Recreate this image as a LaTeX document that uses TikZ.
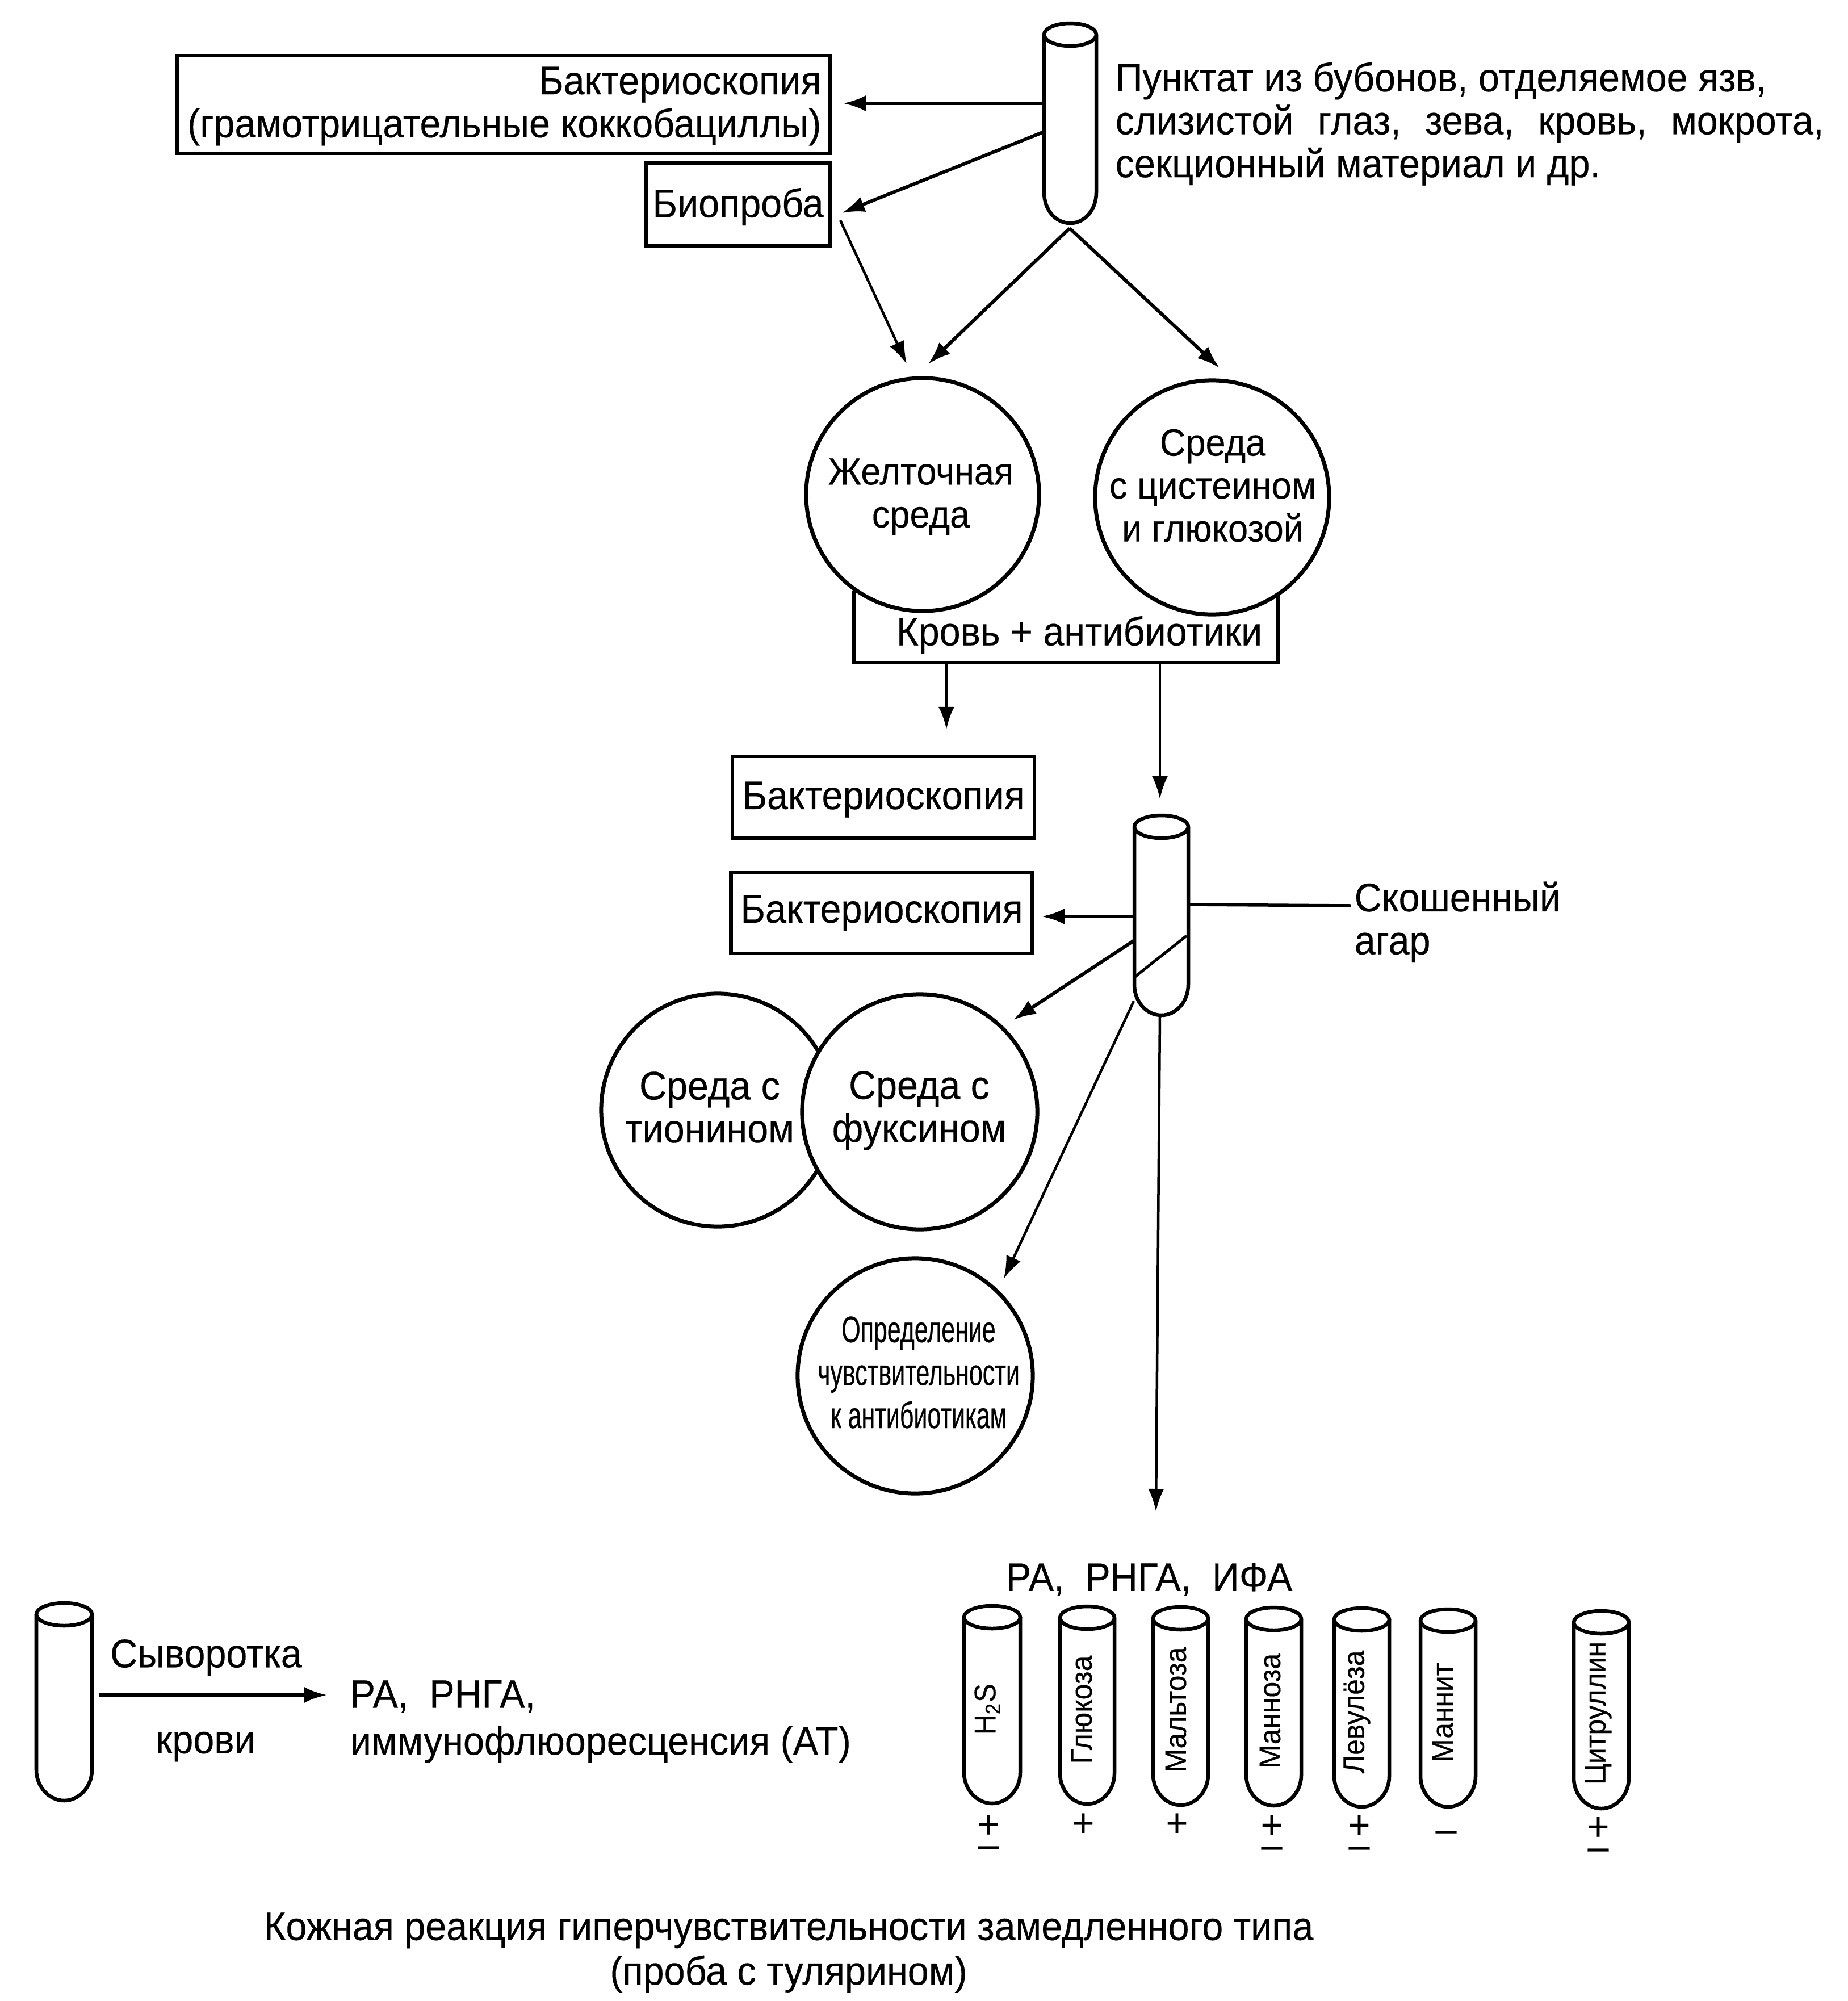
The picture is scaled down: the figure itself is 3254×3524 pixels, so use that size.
\documentclass[tikz,border=0pt]{standalone}
\usepackage{fontspec}
\setmainfont[FakeStretch=.945,FakeBold=.25]{Liberation Sans}
\newfontfamily\narrowfont[FakeStretch=.66,FakeBold=.35]{Liberation Sans}
\usepackage{tikz}
\usetikzlibrary{positioning,calc,arrows.meta}

% x, y given in picture pixels, y runs downwards
\newcommand{\testtube}[4]{%
    \pgfmathsetmacro{\tubemid}{(#1+#2)/2}
    \pgfmathsetmacro{\tuberad}{(#2-#1)/2}
    \pgfmathsetmacro{\tubeknee}{#4-54}
    \draw[tubeline, fill=white] (#1,#3+20) -- (#1,\tubeknee)
        .. controls +(0,30) and +(-26,0) .. (\tubemid,#4)
        .. controls +(26,0) and +(0,30) .. (#2,\tubeknee) -- (#2,#3+20);
    \draw[tubeline, fill=white] (\tubemid,#3+20) ellipse [x radius=\tuberad, y radius=20];
}

\tikzset{
    tubeline/.style={line width=.065cm},
    link/.style={line width=.06cm, ->, >={Latex[length=.4cm,width=.28cm]}},
    thinlink/.style={link, line width=.045cm},
    rectbox/.style={draw, line width=.065cm, fill=white, inner sep=0pt},
    roundbox/.style={draw, circle, line width=.07cm, fill=white, minimum size=4.12cm, inner sep=0pt},
    plain/.style={align=center, inner sep=0pt},
    smalltext/.style={plain, font=\fontsize{19}{21.5}\selectfont},
    tubelabel/.style={plain, rotate=90, font=\fontsize{15}{17}\selectfont},
    narrowtext/.style={plain, font=\narrowfont\fontsize{18.5}{21.5}\selectfont},
    signs/.style={plain, font=\fontsize{20}{10}\selectfont}
}

\begin{document}
\begin{tikzpicture}[x=.01cm, y=-.01cm, every node/.append style={font=\fontsize{20}{21.5}\selectfont}]
    \useasboundingbox (0,0) rectangle (3254,3524);

    % Sample tube and first tests
    \testtube{1839}{1931}{41}{393}
    \node[plain, anchor=west, align=left] (sample) at (1964,218) {%
        Пунктат из бубонов, отделяемое язв,\\
        \makebox[12.47cm][s]{слизистой\ \ глаз,\ \ зева,\ \ кровь,\ \ мокрота,}\\
        секционный материал и др.};
    \node[rectbox, minimum width=11.5cm, minimum height=1.72cm] (micro) at (887,184) {};
    \node[plain, anchor=east, align=right] (microtext) at (1447,187)
        {Бактериоскопия\\(грамотрицательные коккобациллы)};
    \node[rectbox, minimum width=3.25cm, minimum height=1.45cm] (bio) at (1300,360) {};
    \node[plain] (biotext) at (1300,364) {Биопроба};
    \coordinate (sampleA) at (1839,182);
    \coordinate (sampleB) at (1839,232);
    \coordinate (sampleC) at (1884,402);
    \coordinate (microTip) at (1485,182);
    \coordinate (bioTip) at (1483,375);
    \coordinate (bioOut) at (1480,388);
    \coordinate (yolkTipA) at (1597,641);
    \coordinate (yolkTipB) at (1635,641);
    \coordinate (cystTip) at (2148,648);
    \draw[link] (sampleA) -- (microTip);
    \draw[link] (sampleB) -- (bioTip);
    \draw[thinlink] (bioOut) -- (yolkTipA);
    \draw[link] (sampleC) -- (yolkTipB);
    \draw[link] (sampleC) -- (cystTip);

    % Enrichment media on the blood box
    \coordinate (bloodNW) at (1504,1041);
    \coordinate (bloodSW) at (1504,1167);
    \coordinate (bloodSE) at (2251,1167);
    \coordinate (bloodNE) at (2251,1050);
    \draw[rectbox] (bloodNW) -- (bloodSW) -- (bloodSE) -- (bloodNE);
    \node[roundbox, minimum size=4.1cm] (yolk) at (1625,871) {};
    \node[roundbox] (cyst) at (2135,876) {};
    \node[smalltext] (yolktext) at (1622,875) {Желточная\\среда};
    \node[smalltext] (cysttext) at (2136,855) {Среда\\с цистеином\\и глюкозой};
    \node[plain] (bloodtext) at (1901,1118) {Кровь + антибиотики};

    % Second round
    \node[rectbox, minimum width=5.32cm, minimum height=1.44cm] (microB) at (1556,1404) {};
    \node[plain] (microBtext) at (1556,1408) {Бактериоскопия};
    \node[rectbox, minimum width=5.31cm, minimum height=1.42cm] (microC) at (1553,1608) {};
    \node[plain] (microCtext) at (1553,1608) {Бактериоскопия};
    \coordinate (bloodA) at (1667,1167);
    \coordinate (bloodB) at (2043,1167);
    \coordinate (microBTip) at (1667,1285);
    \coordinate (slantTip) at (2043,1407);
    \draw[link] (bloodA) -- (microBTip);
    \draw[thinlink] (bloodB) -- (slantTip);

    % Agar slant
    \testtube{1998}{2093}{1436}{1788}
    \coordinate (agarA) at (1998,1721);
    \coordinate (agarB) at (2090,1648);
    \draw[line width=.05cm] (agarA) -- (agarB);
    \node[plain, anchor=north west, align=left] (agar) at (2385,1552) {Скошенный\\агар};
    \coordinate (slantR) at (2093,1593);
    \coordinate (agarL) at (2379,1595);
    \draw[line width=.055cm] (slantR) -- (agarL);
    \coordinate (slantL) at (1998,1614);
    \coordinate (microCTip) at (1835,1614);
    \draw[link] (slantL) -- (microCTip);

    % Dye media and sensitivity
    \node[roundbox, minimum size=4.1cm] (thio) at (1264,1955) {};
    \node[roundbox, minimum size=4.14cm] (fuch) at (1620,1958) {};
    \node[plain] (thiotext) at (1250,1950) {Среда с\\тионином};
    \node[plain] (fuchtext) at (1619,1956) {Среда с\\фуксином};
    \node[roundbox, minimum size=4.14cm] (sens) at (1612,2423) {};
    \node[narrowtext] (senstext) at (1618,2417) {Определение\\чувствительности\\к антибиотикам};
    \coordinate (slantC) at (1998,1656);
    \coordinate (fuchTip) at (1785,1796);
    \coordinate (slantD) at (1997,1763);
    \coordinate (sensTip) at (1768,2252);
    \coordinate (slantE) at (2043,1788);
    \coordinate (rowTip) at (2036,2662);
    \draw[link] (slantC) -- (fuchTip);
    \draw[thinlink] (slantD) -- (sensTip);
    \draw[thinlink] (slantE) -- (rowTip);

    % Row of tubes
    \node[plain] (rowtitle) at (2024,2782) {РА,\ \ РНГА,\ \ ИФА};
    \foreach \i/\lft/\rgt/\tp/\bt/\lab/\lx/\ly in {
        a/1698/1797/2828/3176/{H\textsubscript{2}S}/1739/3010,
        b/1867/1963/2829/3177/Глюкоза/1905/3011,
        c/2031/2128/2830/3179/Мальтоза/2071/3011,
        d/2195/2292/2831/3180/Манноза/2237/3013,
        e/2350/2447/2832/3182/Левулёза/2390/3015,
        f/2502/2599/2834/3182/Маннит/2541/3016,
        g/2772/2869/2837/3185/Цитруллин/2815/3017} {
        \testtube{\lft}{\rgt}{\tp}{\bt}
        \node[tubelabel] (label\i) at (\lx,\ly) {\lab};
    }
    \foreach \i/\sx/\sy/\txt in {a/1741/3234/{+\\–},b/1908/3214/+,c/2073/3214/+,d/2240/3235/{+\\–},
        e/2394/3235/{+\\–},f/2547/3235/–,g/2815/3238/{+\\–}}
        \node[signs] (sign\i) at (\sx,\sy) {\txt};

    % Serum
    \testtube{64}{162}{2823}{3171}
    \coordinate (serumOut) at (174,2985);
    \node[plain, anchor=west, align=left] (serumtests) at (616,3032) {РА,\ \ РНГА,\\[.07cm]иммунофлюоресценсия (АТ)};
    \coordinate (serumTip) at (576,2985);
    \draw[link] (serumOut) -- (serumTip);
    \node[plain] (serumtop) at (363,2919) {Сыворотка};
    \node[plain] (serumbot) at (362,3076) {крови};

    % Skin test
    \node[plain] (skin) at (1389,3439) {Кожная реакция гиперчувствительности замедленного типа\\[.03cm](проба с тулярином)};
\end{tikzpicture}
\end{document}
